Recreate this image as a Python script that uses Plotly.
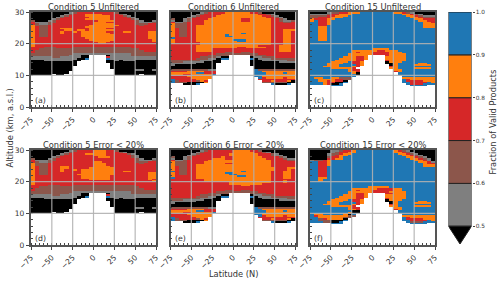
import plotly.graph_objects as go

LEVELS = {"K": 0.45, "G": 0.55, "B": 0.65, "R": 0.75, "O": 0.85, "L": 0.95, ".": None}
LAT_CENTERS = [-72.5 + 5 * i for i in range(30)]
ALT_CENTERS = [29.75 - 0.5 * i for i in range(48)]
X_TICKS = [-75, -50, -25, 0, 25, 50, 75]
Y_TICKS = [0, 10, 20, 30]
TITLES = ["Condition 5 Unfiltered", "Condition 6 Unfiltered", "Condition 15 Unfiltered",
          "Condition 5 Error < 20%", "Condition 6 Error < 20%", "Condition 15 Error < 20%"]
TAGS = ["(a)", "(b)", "(c)", "(d)", "(e)", "(f)"]
CB_BASES = [0.5, 0.6, 0.7, 0.8, 0.9]
CB_STEP = [0.1, 0.1, 0.1, 0.1, 0.1]
CB_COLORS = ["#7f7f7f", "#8c564b", "#d62728", "#ff7f0e", "#1f77b4"]
CB_TICKS = [0.5, 0.6, 0.7, 0.8, 0.9, 1.0]

PANEL_A = [
"KKKKKKKKKGBRRRRRRRRRBKKKKKKKKK",
"KKKKKKKKGBRRROOOORRRRBGKKKKKKK",
"KKKKKKKGBRRRROOOOOORRRBGKKKKKK",
"KKKKKKGBRRRRRROOOOORRRRBGKKKKK",
"KKKKKGBRRRRRROOOOOORRRRRBGKKKK",
"BKKKGBRRRRRRRRRROOOORRRRRBGKKG",
"RGGGBBRRRRRRRRROOORRRRRRRBGGGB",
"RBGGBRRRRRRRRRROOOOORRRRRBBBRR",
"OBBBRRRRRRRRRROOOOOOORRRRRBRRR",
"ORBBRRRRRRRRROOOOOOORRRRRRRRRR",
"ORBBRRROOORRRROOOORRRRRRRRRRRR",
"ORBBRRRROOROOROOOOOORRRRRRRRRR",
"ORBBRRRORROROOOOOORRRROORRRROO",
"ORBBRRRORRRROOOOOOORRRRRRRRROO",
"ORBBRRRRRRRROOOOOOOORRRRRRRROO",
"ORBBRRRRRRRROOOOOOOORRRRRRRROO",
"ORRRRRRRRRRRROOOOOOORRRRRRRROO",
"ORRRRRRRRRRRRROOOOOORRRRRRRRRO",
"ORRRRRRRRRRRRRROOOORRRRRRRRRRO",
"ORRRRRRRRRRRRRRROORRRRRRRRRRRR",
"ORRRRRRRRRRRRRRRRRRRRRRRRRRRRR",
"ORRRRRRRRRRRRRRRRRRRRRRRRRRRRR",
"RRRBBBRRRRBBBBBBBBBBBBBBRRRRRR",
"RRBBBBBBBBBBBBBBBBBBBBBBBBRRRR",
"RBBBBBBBBBBBBBBBBBBBBBBBBBBRRR",
"RBBBBBBBBBBBBBBBBBBBBBBBBBBBBB",
"BBBBBBBBBBGGGGGGGGGGGGGGBBBBBB",
"BBBBBBBBBGGGKK....KGGGGGBBBBBB",
"GGGGGBBGGGGGKK....RGGGGGGGGGGG",
"GGGGGGGGGGGKKL....LGGGGGGGGGGG",
"KKKGGGGGGGKK......KKGKGGGKKKKK",
"KKKKKKKKKKK.......KKKKKKKKKKKK",
"KKKKKKKKKKK........KKKKKKKKKKK",
"KKKKKKKKKKK........KKKKKKKKKKK",
"KKKKKKKKKK.........KKKKKKKKKKK",
"KKKKKKKKKK.........KKKKKKKKKKK",
"KKKKKKKKKK..........KKKKKGGKKG",
"KKKKKKKKK...........KKKKKKKKKK",
"KKKKKKKKK...........KKKKKKKKKK",
"KKKKK.KK............KKKKKK.KKK",
]

PANEL_B = [
"KKKKKKKGBRRRROOOOOORRBKKKKKKKK",
"KKKKKKGBRRRROOOOOOOOORRBGKKKKK",
"KKKKKGBRRRROOOOOOOOOOORRBGKKKK",
"KKKKGBRRRROOOOOOOOOOOOORRBGKKK",
"BKKGBRRRROOOOOOOORROOOOORRBGKK",
"GKKGBRRROOOOOOOOORROOOOORRBGGB",
"RGGBRRRROOOOOOOOOOOOOOOORRRBBR",
"OBBBRRRROOOOOOOOOOOOOOOORRRRRR",
"OBBBRROOOOOOOOOOOOOOOOOORRRRRR",
"OBBBRROOOOOOOOOOOOOOOOOORRRRRR",
"ORBBRROOOOOOOOOOOOOOOOOORRRRRR",
"ORBBRROOOOOOOOOOOOOOOOOORRROOO",
"ORBBRROOOOOOOOOOOOOOOOOORRROOR",
"ORBBRROOOOOOOOOOOLOOOOOORRROOR",
"ORBBRROOOOOOOLOOOOOOOOOORRROOR",
"ORBBRROOOOOOOLLOOOOOOOOORRROOR",
"LRRRRROOOOOOOOOOOOOOOOOORRROOR",
"ORRRRROOOOOOOOOLLLOOOOOORRROOR",
"ORRRRROOOOOOOOOOLLOOOOOORRROOR",
"ORRRRRROOOOOOOOOOOOOOOOORRROOR",
"RRRRRRROOOOOOOOOOOOOOOOORRROOR",
"RRRRRROOOOOOOOOOOOOOORRRRROOOR",
"RRRRRROOOOOOOOOORROOOOORRROOOR",
"RRRRRROOOORRRRRRRRRRRRRRRROOOR",
"RRRRRROOOORRRRRRRRRRRRRRRROOOR",
"RRRRRRRRRRRRRBBRRBBRRRRRRRRRRR",
"RRRRRRRRRRRBBBBBBBBBBRRRRRRRRR",
"RRRRRRRRRBBBBB.....BBBBRRRRRRR",
"RRRRRRRBBBBGKK.....KGGBBBRRRRR",
"RRRRRRBBBGGKLL.....LKGGGBBBBBB",
"BBBBBBBGGGKK.......KKKGGGGGGBB",
"BBBGGGGGKKKK.......KKKKKKKGGGG",
"GGGGGGKKKKK........KKKKKKKKKKK",
"GKKKKKKKKKK........KKKKKKKKKKK",
"KKKKKKKKKKK.........KKKKKKKKKK",
"KKKKKKKKKKK.........KKKKKKKKKK",
"BBBBBBBBBGG.........LBBBBBBBBB",
"RRRROOOORRR.........LLOOOOOOOO",
"OOOOOOLLRRR.........LLLOOOOLOO",
"OOORROOOOOL.........LLLOOOOOOO",
"RRRROOOOOO..........LLOOOOOOOO",
"RRRRROOOOO...........LROOOOROO",
"LRRRRROOO............RRRRRRRRR",
"LBRRRRBOR.............RRORRROK",
"LBBBKKKKO.............BBBBBBKK",
"...KKKL.................LKKKL.",
]

PANEL_C = [
"KKKKGBBRROOOLLLLLLLLOORBGKKKKK",
"GGGGBRROOOLLLLLLLLLLLLOORBGKKK",
"BBBBRROOOLLLLLLLLLLLLLLOORBGGG",
"BBRRROOOLLLLLLLLLLLLLLLLOORBBB",
"ORRROOLLLLLLLLLLLLLLLLLLLOORRR",
"OLRROLLLLLLLLLLLLLLLLLLLLLOORR",
"LLRROLLLLLLLLLLLLLLLLLLLLLLOOR",
"LLRROLLLLLLLLLLLLLLLLLLLLLLOOO",
"LLRRLLLLLLLLLLLLLLLLLLLLLLLOOO",
"LLOOLLLLLLLLLLLLLLLLLLLLLLLOOO",
"LLOOLLLLLLLLLLLLLLLLLLLLLLLLLL",
"LLOOLLLLLLLLLLLLLLLLLLLLLLLLLL",
"LLOOLLLLLLLLLLLLLLLLLLLLLLLLLL",
"LLOOLLLLLLLLLLLLLLLLLLLLLLLLLL",
"LLOOLLLLLLLLLLLLLLLLLLLLLLLLLL",
"LLOOLLLLLLLLLLLLLLLLLLLLLLLLLL",
"LLOOLLLLLLLLLLLLLLLLLLLLLLLLLL",
"LLOOLLLLLLLLLLLLLLLLLLLLLLLLLL",
"LLLLLLLLLLLLLLLLLLLLLLLLLLLLLL",
"LLLLLLLLLLLLLLLLLLLLLLLLLLLLLL",
"LLLLLLLLLLLLLLLLLLLLLLLLLLLLLL",
"LLLLLLLLLLLLLLLLLLLLLLLLLLLLLL",
"LLLLLLLLLLLLLLLLLLLLLLLLLLLLLL",
"LLLLLLLLLLLLLLLOOOOLLLLLLLLLLL",
"LLLLLLLLLLOOOOOORROOOLLLLLLLLL",
"LLLLLLLLLLOROOORRRROOOLLLLLLLL",
"LLLLLLLLLOOOOOORRRROOOOLLLLLLL",
"LLLLLLLLLOOOOO....ROOOOLLLLLLL",
"LLLLLLLLOOORRO....OOOOOLLLLLLL",
"LLLLLLLOOOORRO....OOOOOLLLLLLL",
"LLLLLLOOOOORR.....ROOOOLLLLLLL",
"LLLLLOOOOLRRO.....KOOOLLLLLLLL",
"LLLLOOOOLLRRO.....KKOLLLLLOOLL",
"LLLLOOOLLLLRO......KOLLLLOOOOL",
"LLLOOOOLLLOR.......ROLLLLLLLLL",
"LLLLLOOOOOR........OOLLLLOOOOL",
"LLLLLLLLLORR........OOLLLLLLLL",
"LLLLLLLLLOOR........ROLLLLLLLL",
"LLLLLLLLLLOK.........LLLLLLLLL",
"LLLLLLLLLLLK.........LLLLLLLLL",
"LLLLLLLLLLL...........LLLLLLLL",
"LOOLLOOBBB............OOOOOOOO",
"LLOOOORRBB............LROOOOOO",
"LLOORORRK.............LRRRROOO",
"LLLORRKKL.............LLRRRRLO",
"LLLORKKL...............LRRRLLL",
".....LLL................LLLL..",
]

PANEL_D = [
"KKKKKKKKKGBRRRROOORRBKKKKKKKKK",
"KKKKKKKKGBRRRRROOORRRBGKKKKKKK",
"KKKKKKKGBRRRROOOOORRRRRBGKKKKK",
"KKKKKKGBRRRRRRROOORRRRRRBGKKKK",
"KKKKKGBRRRRRRRRROOORRRRRBGKKKK",
"BKKKGBRRRRRRRRRRRRRRRRRRRBGKKG",
"RGGGBBRRRRRRRRRRRRRRRRRRRBGGGB",
"RBGGBRRRRRRRRRROORRRRRRRRBBBRR",
"OBBBRRRRRRRRRRROOORRRRRRRRBRRR",
"OBBBRRRRRRRRRRROOORRRRRRRRRRRR",
"ORBBRRROORRRRRROOOORRRRRRRRRRR",
"ORBBRRROORRRRROOOOOORRRRRRRRRR",
"ORBBRRRORROROOOOOOOORRRRRRRRRR",
"ORBBRRRORRRROOOOOOOORROORRRRRR",
"ORBBRRRRRRRROOOOOOOORRRRRRRROO",
"ORBBRRRRRRROOOOOOOOORRRRRRRROO",
"ORRRRRRRRRRROOOOOOORRRRRRRRROO",
"ORRRRRRRRRRROOOOOOORRRRRRRRROO",
"ORRRRRRRRRRRRROOOOORRRRRRRRROR",
"ORRRRRRRRRRRRRRRRRRRRRRRRRRRRO",
"ORRRRRRRRRRRRRRRRRRRRRRRRRRRRR",
"ORRRRRRRRRRRRRRRRRRRRRRRRRRRRR",
"RRRRBBBRRRBBBBBBBBBBBBBBBRRRRR",
"RRBBBBBBBBBBBBBBBBBBBBBBBBRRRR",
"RBBBBBBBBBBBBBBBBBBBBBBBBBBRRR",
"RBBBBBBBBBBBBBBBBBBBBBBBBBBBBB",
"BBBBBBBBBBGGGGGGGGGGGGGGBBBBBB",
"BBBBBBBBBGGGKK....KGGGGGBBBBBB",
"GGGGGBBGGGGGKK....RGGGGGGGGGGG",
"GGGGGGGGGGGKKL....LGGGGGGGGGGG",
"KKKGGGGGGGKK......KKGKGGGKKKKK",
"KKKKKKKKKKK.......KKKKKKKKKKKK",
"KKKKKKKKKKK........KKKKKKKKKKK",
"KKKKKKKKKKK........KKKKKKKKKKK",
"KKKKKKKKKK.........KKKKKKKKKKK",
"KKKKKKKKKK.........KKKKKKKKKKK",
"KKKKKKKKKK..........KKKKKGGKKG",
"KKKKKKKKK...........KKKKKKKKKK",
"KKKKKKKKK...........KKKKKKKKKK",
"KKKKK.KK............KKKKKK.KKK",
]

PANEL_E = [
"KKKKKKKGBRRRRRROOOORRBKKKKKKKK",
"KKKKKKGBRRRRRRROOOOORRBGKKKKKK",
"KKKKKGBRRRRRRROOOOOOORRRBGKKKK",
"KKKKGBRRRRRRRROOOOOOORRRBGGKKK",
"BKKGBRRRRRRRORROOOOOOORRRRBGKK",
"GKKGBRRRRROOORROOOOOOOORRRRBGG",
"RGGBRRRRROOOOOOOOOOOOOOORRRRBB",
"OBBBRRRROOOOOOOOOOOOOOOORRRRRR",
"OBBBRRRROOOOORROOOOOOOOORRRRRR",
"OBBBRROOOOOOOOOOOOOOOOOORRRRRR",
"ORBBRROOOOOOOOOOOOOOOOOORRRRRR",
"ORBBRROOOOOOOOOOOOOOOOOOORRROO",
"ORBBRROOOOOOOOOOOOOOOOOOORRROR",
"LRBBRROOOOOOOOOOOLOOOOOORRROOR",
"ORBBRROOOOOOOLLOOOOOOOOORRROOR",
"ORBBRROOOOOOOOLLOOOOOOOORRROOR",
"ORRRRROOOOOOOOOOLLOOOOOORRROOR",
"LRRRRROOOOOOOOOOOOOOOOOORRROOR",
"RRRRRRRROOOOOOOOOOOOOOOORRRRRR",
"RRRRRRRROOOOOOOOOOOOOOOORRRORR",
"RRRRRRRRRRRRRROOOOOOOOOORRRORR",
"RRRRRRRRRRRRRROOOOOOOORRRRRRRR",
"RRRRRRRRRRRRRRRRROORRRRRRRRRRR",
"RRRRRRRRRRRRRRRRRRRRRRRRRRRRRR",
"RRRRRRRRRRRRRRRRRRRRRRRRRRRRRR",
"RRRRRRRRRRRRRBBRRBBRRRRRRRRRRR",
"RRRRRRRRRRRBBBBBBBBBBRRRRRRRRR",
"RRRRRRRRRBBBBB.....BBBBRRRRRRR",
"RRRRRRRBBBBGKK.....KGGBBBRRRRR",
"RRRRRRBBBGGKLL.....LKGGGBBBBBB",
"BBBBBBBGGGKK.......KKKGGGGGGBB",
"BBBGGGGGKKKK.......KKKKKKKGGGG",
"GGGGGGKKKKK........KKKKKKKKKKK",
"GKKKKKKKKKK........KKKKKKKKKKK",
"KKKKKKKKKKK.........KKKKKKKKKK",
"KKKKKKKKKKK.........KKKKKKKKKK",
"BBBBBBBBBGG.........LBBBBBBBBB",
"RRRROOOORRR.........LLOOOOOOOO",
"OOOOOOLLRRR.........LLLOOOOLOO",
"OOORROOOOOL.........LLLOOOOOOO",
"RRRROOOOOO..........LLOOOOOOOO",
"RRRRROOOOO...........LROOOOROO",
"LRRRRROOO............RRRRRRRRR",
"LBRRRRBOR.............RRORRROK",
"LBBBKKKKO.............BBBBBBKK",
"...KKKL.................LKKKL.",
]

PANEL_F = [
"KKKKKGGBRROLLLLLLLLLORBGKKKKKK",
"KKKKKGBRROOLLLLLLLLLOORBGKKKKK",
"KKKKGBBROOLLLLLLLLLLLOORBGKKKK",
"KKKKGBROOLLLLLLLLLLLLLOORBGKKK",
"KKKKBRROLLLLLLLLLLLLLLLOORBGKK",
"KKKKRROOLLLLLLLLLLLLLLLLOORBGK",
"GBBROLLLLLLLLLLLLLLLLLLLLOORGK",
"LLRROLLLLLLLLLLLLLLLLLLLLLOORG",
"LLRROLLLLLLLLLLLLLLLLLLLLLLORR",
"LLRROLLLLLLLLLLLLLLLLLLLLLLOOO",
"LLRRLLLLLLLLLLLLLLLLLLLLLLLOOO",
"LLRRLLLLLLLLLLLLLLLLLLLLLLLLLL",
"LLRRLLLLLLLLLLLLLLLLLLLLLLLLLL",
"LLRRLLLLLLLLLLLLLLLLLLLLLLLLLL",
"LLRRLLLLLLLLLLLLLLLLLLLLLLLLLL",
"LLRRLLLLLLLLLLLLLLLLLLLLLLLLLL",
"LLRRLLLLLLLLLLLLLLLLLLLLLLLLLL",
"LLOOLLLLLLLLLLLLLLLLLLLLLLLLLL",
"LLOLLLLLLLLLLLLLLLLLLLLLLLLLLL",
"LLOLLLLLLLLLLLLLLLLLLLLLLLLLLL",
"LLLLLLLLLLLLLLLLLLLLLLLLLLLLLL",
"LLLLLLLLLLLLLLLLLLLLLLLLLLLLLL",
"LLLLLLLLLLLLLLLLLLLLLLLLLLLLLL",
"LLLLLLLLLLLLLLOOOOOLLLLLLLLLLL",
"LLLLLLLLLLOOOOOORRRROOLLLLLLLL",
"LLLLLLLLLLOROOORRRRROOLLLLLLLL",
"LLLLLLLLLOOOOOORRRROOOOLLLLLLL",
"LLLLLLLLLOORRO....RROOOLLLLLLL",
"LLLLLLLLOOORRO....OOOOOLLLLLLL",
"LLLLLLLOOOORRO....OOOOOLLLLLLL",
"LLLLLLOOOOORR.....ROOOOLLLLLLL",
"LLLLLOOOOLRRO.....KOOOLLLLLLLL",
"LLLLOOOOLLRRO.....KKOLLLLLOOLL",
"LLLLOOOLLLLRO......KOLLLLOOOOL",
"LLLOOOOLLLOR.......ROLLLLLLLLL",
"LLLLLOOOOOR........OOLLLLOOOOL",
"LLLLLLLLLORR........OOLLLLLLLL",
"LLLLLLLLLOOR........ROLLLLLLLL",
"LLLLLLLLLLKK.........LLLLLLLLL",
"LLLLLLLLLOKK.........LLLLLLLLL",
"LOOLLLLLOKL...........LLLLLLLL",
"LROOOOOOOBB...........OOOOOOOO",
"LLOOOOOOBB............LROOOOOO",
"LLBROOOOK.............LRRRROOO",
"LLBBBKKKL.............LLRRRRLO",
"LLLBBKKL...............LBBBLLL",
".....LLL................LLLL..",
]

PANELS = [PANEL_A, PANEL_B, PANEL_C, PANEL_D, PANEL_E, PANEL_F]

W, H = 500, 282
COLX = [(31, 156), (170.5, 295.5), (310, 435)]
ROWY = [(12, 107), (150, 245)]
CB_X = (448.5, 471.5)
CB_Y = (12, 244)
TXT = "#333333"
FONT = "DejaVu Sans"


def fx(p):
    return p / W


def fy(p):
    return 1 - p / H


COLORSCALE = [
    [0.0, "#000000"], [1 / 6, "#000000"],
    [1 / 6, "#7f7f7f"], [2 / 6, "#7f7f7f"],
    [2 / 6, "#8c564b"], [3 / 6, "#8c564b"],
    [3 / 6, "#d62728"], [4 / 6, "#d62728"],
    [4 / 6, "#ff7f0e"], [5 / 6, "#ff7f0e"],
    [5 / 6, "#1f77b4"], [1.0, "#1f77b4"],
]

fig = go.Figure()
layout = {}
shapes = []
annotations = []

for i, rows in enumerate(PANELS):
    n = "" if i == 0 else str(i + 1)
    col = i % 3
    row = i // 3
    padded = [r.ljust(30, ".")[:30] for r in rows] + ["." * 30] * (48 - len(rows))
    z = [[LEVELS[ch] for ch in r] for r in padded]
    fig.add_trace(go.Heatmap(
        x=LAT_CENTERS, y=ALT_CENTERS, z=z, zmin=0.4, zmax=1.0,
        colorscale=COLORSCALE, showscale=False, hoverongaps=False,
        xaxis="x" + n, yaxis="y" + n,
    ))
    layout["xaxis" + n] = dict(
        domain=[fx(COLX[col][0]), fx(COLX[col][1])], range=[-75, 75], anchor="y" + n,
        automargin=False,
        tickmode="array", tickvals=X_TICKS, ticks="outside", ticklen=3.5, tickwidth=1, tickcolor="#444444",
        tickangle=-45, tickfont=dict(size=7.5, color=TXT, family=FONT),
        showgrid=False, zeroline=False, mirror=True, showline=True,
        linecolor="#555555", linewidth=1.5,
        minor=dict(dtick=5, tick0=0, ticks="inside", ticklen=2, tickwidth=0.7, tickcolor="#444444", showgrid=False),
    )
    layout["yaxis" + n] = dict(
        domain=[fy(ROWY[row][1]), fy(ROWY[row][0])], range=[0, 30], anchor="x" + n,
        automargin=False,
        tickmode="array", tickvals=Y_TICKS, ticks="outside" if col == 0 else "inside", ticklen=3.5 if col == 0 else 2,
        tickwidth=1, tickcolor="#444444",
        showticklabels=col == 0, tickfont=dict(size=7.5, color=TXT, family=FONT),
        showgrid=False, zeroline=False, mirror=True, showline=True,
        linecolor="#555555", linewidth=1.5,
        minor=dict(dtick=2, tick0=0, ticks="inside", ticklen=2, tickwidth=0.7, tickcolor="#444444", showgrid=False),
    )
    xr, yr = "x" + n, "y" + n
    for t in X_TICKS[1:-1]:
        shapes.append(dict(type="line", xref=xr, yref=yr, x0=t, x1=t, y0=0, y1=30,
                           line=dict(color="rgba(176,176,176,0.9)", width=1.2), layer="above"))
    for t in Y_TICKS[1:-1]:
        shapes.append(dict(type="line", xref=xr, yref=yr, x0=-75, x1=75, y0=t, y1=t,
                           line=dict(color="rgba(176,176,176,0.9)", width=1.2), layer="above"))
    annotations.append(dict(
        text=TITLES[i], xref="paper", yref="paper",
        x=fx(sum(COLX[col]) / 2), y=fy(ROWY[row][0] - 5), xanchor="center", yanchor="middle",
        showarrow=False, font=dict(size=8.3, color=TXT, family=FONT),
    ))
    annotations.append(dict(
        text=TAGS[i], xref="paper", yref="paper",
        x=fx(COLX[col][0] + 2), y=fy(ROWY[row][1] - 6.5), xanchor="left", yanchor="middle",
        showarrow=False, font=dict(size=7.8, color=TXT, family=FONT),
    ))

# colour bar axes
fig.add_trace(go.Bar(
    x=[0] * 5, y=CB_STEP, base=CB_BASES, width=1,
    marker=dict(color=CB_COLORS, line=dict(color="#222222", width=1)),
    xaxis="x7", yaxis="y7", showlegend=False,
))
fig.add_trace(go.Scatter(
    x=[-0.5, 0.5, 0, -0.5], y=[0.5, 0.5, 0.4585, 0.5], mode="lines", fill="toself",
    fillcolor="#000000", line=dict(color="#222222", width=1),
    xaxis="x7", yaxis="y7", showlegend=False,
))
layout["xaxis7"] = dict(domain=[fx(CB_X[0]), fx(CB_X[1])], range=[-0.5, 0.5], anchor="y7",
                        visible=False, fixedrange=True, automargin=False)
layout["yaxis7"] = dict(domain=[fy(CB_Y[1]), fy(CB_Y[0])], range=[0.4585, 1.0], anchor="x7", side="right",
                        automargin=False,
                        tickmode="array", tickvals=CB_TICKS, ticktext=["0.5", "0.6", "0.7", "0.8", "0.9", "1.0"],
                        ticks="outside", ticklen=2, tickwidth=0.8, tickcolor="#444444",
                        tickfont=dict(size=5.8, color=TXT, family=FONT),
                        showgrid=False, zeroline=False, showline=False)

annotations += [
    dict(text="Altitude (km, a.s.l.)", xref="paper", yref="paper", x=fx(9), y=fy(128.5),
         xanchor="center", yanchor="middle", textangle=-90, showarrow=False,
         font=dict(size=8.3, color=TXT, family=FONT)),
    dict(text="Latitude (N)", xref="paper", yref="paper", x=fx(233), y=fy(274),
         xanchor="center", yanchor="middle", showarrow=False,
         font=dict(size=8.3, color=TXT, family=FONT)),
    dict(text="Fraction of Valid Products", xref="paper", yref="paper", x=fx(492.5), y=fy(122),
         xanchor="center", yanchor="middle", textangle=-90, showarrow=False,
         font=dict(size=8.3, color=TXT, family=FONT)),
]

fig.update_layout(
    template="none",
    width=W, height=H, autosize=False,
    margin=dict(l=0, r=0, t=0, b=0, pad=0),
    paper_bgcolor="white", plot_bgcolor="white",
    showlegend=False, barmode="overlay",
    shapes=shapes, annotations=annotations,
    font=dict(family=FONT, color=TXT),
    **layout,
)
fig.write_html("out.html", config={"displayModeBar": False},
               post_script="document.body.style.margin='0';")
